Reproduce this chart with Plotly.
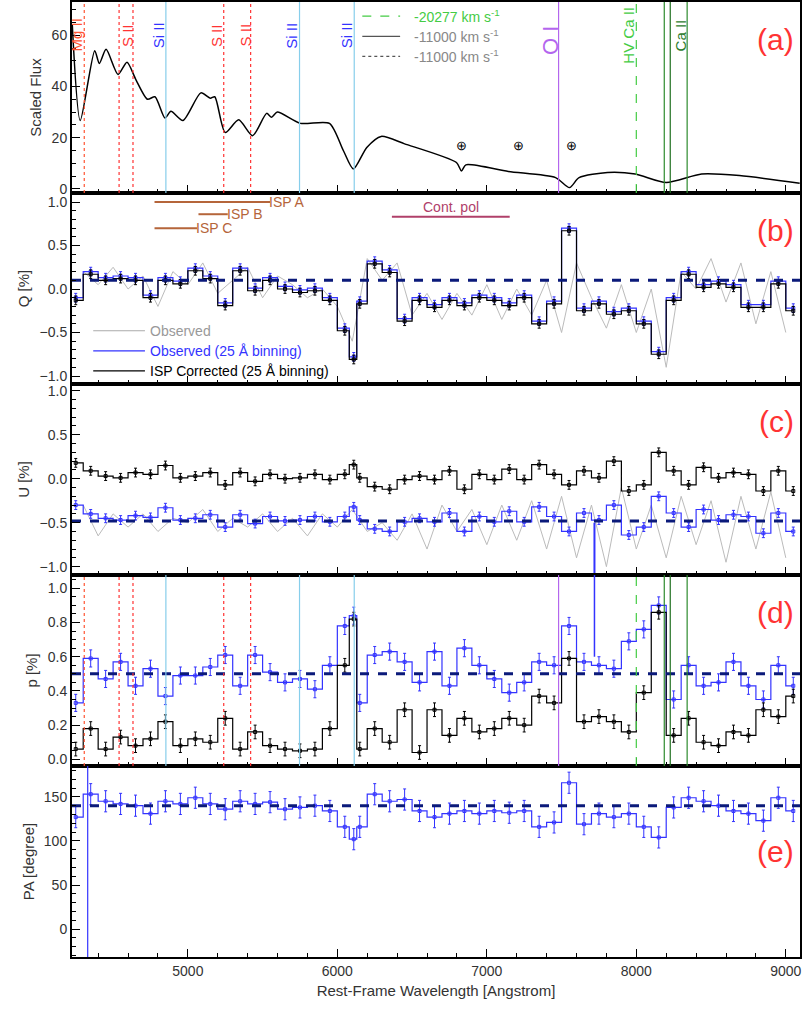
import plotly.graph_objects as go
from plotly.subplots import make_subplots

# ---------------- data ----------------
flux_wl = [4227,4280,4377,4408,4453,4533,4593,4653,4730,4780,4847,4887,4967,5087,5150,5180,5250,5340,5433,5527,5560,5598,5753,5947,6040,6107,6197,6293,6450,6797,6830,6860,7144,7460,7553,7617,7807,7993,8200,8437,8690,9093]
flux = [64,26.7,54,49,54.5,44.7,49.5,42.6,35,36,27.7,30.3,26.7,37.5,35.4,36,22,27,20.8,29.5,28,30,25.6,25.6,15,7.8,16.2,20.5,17.6,10.3,7,9.4,6.8,4.4,0.5,4.4,6.4,5.8,2.5,5.8,5.2,2.2]

wl = list(range(4250, 6051, 100)) + [6110] + list(range(6150, 9051, 100))
q_obs = [-0.10,0.20,0.13,0.15,0.13,-0.07,0.13,0.09,0.24,0.15,-0.16,0.24,0.01,0.13,0.03,-0.01,0.01,-0.10,-0.45,-0.78,-0.14,0.32,0.22,-0.34,-0.10,-0.18,-0.10,-0.16,-0.07,-0.10,-0.16,-0.07,-0.37,-0.14,0.70,-0.22,-0.14,-0.26,-0.22,-0.37,-0.72,-0.10,0.20,0.05,0.09,0.05,-0.18,-0.18,0.09,-0.22]
q_isp = [-0.13,0.17,0.10,0.12,0.10,-0.10,0.10,0.06,0.21,0.12,-0.19,0.21,-0.02,0.10,0.00,-0.04,-0.02,-0.13,-0.48,-0.81,-0.17,0.29,0.19,-0.37,-0.13,-0.21,-0.13,-0.19,-0.10,-0.13,-0.19,-0.10,-0.40,-0.17,0.67,-0.25,-0.17,-0.29,-0.25,-0.40,-0.75,-0.13,0.17,0.02,0.06,0.02,-0.21,-0.21,0.06,-0.25]
u_obs = [-0.30,-0.40,-0.45,-0.47,-0.42,-0.44,-0.33,-0.47,-0.45,-0.41,-0.55,-0.41,-0.51,-0.43,-0.48,-0.47,-0.43,-0.49,-0.43,-0.32,-0.47,-0.57,-0.60,-0.49,-0.45,-0.49,-0.39,-0.60,-0.43,-0.49,-0.37,-0.49,-0.32,-0.43,-0.60,-0.39,-0.47,-0.30,-0.64,-0.55,-0.20,-0.39,-0.55,-0.35,-0.47,-0.41,-0.43,-0.62,-0.39,-0.60]
u_isp = [0.18,0.09,0.03,0.01,0.07,0.05,0.15,0.01,0.03,0.07,-0.07,0.07,-0.03,0.05,0.00,0.01,0.05,-0.01,0.05,0.16,0.01,-0.09,-0.12,-0.01,0.03,-0.01,0.09,-0.12,0.05,-0.01,0.11,-0.01,0.16,0.05,-0.07,0.09,0.01,0.20,-0.14,-0.07,0.30,0.09,-0.07,0.13,0.01,0.07,0.05,-0.14,0.09,-0.14]
p_obs = [0.33,0.59,0.47,0.57,0.43,0.53,0.37,0.49,0.49,0.54,0.61,0.43,0.61,0.51,0.45,0.47,0.41,0.55,0.78,0.84,0.33,0.61,0.63,0.57,0.45,0.63,0.43,0.65,0.55,0.47,0.39,0.45,0.57,0.55,0.78,0.57,0.55,0.53,0.69,0.76,0.90,0.35,0.55,0.43,0.45,0.57,0.43,0.35,0.55,0.43]
p_isp = [0.06,0.18,0.06,0.13,0.08,0.12,0.22,0.08,0.12,0.10,0.24,0.06,0.16,0.08,0.06,0.05,0.06,0.18,0.55,0.82,0.06,0.18,0.10,0.29,0.04,0.29,0.14,0.24,0.16,0.18,0.24,0.20,0.37,0.33,0.59,0.22,0.25,0.22,0.16,0.39,0.86,0.14,0.24,0.10,0.08,0.16,0.14,0.29,0.25,0.37]
pa_obs = [127,153,145,142,140,131,145,142,149,142,136,145,142,144,136,138,140,134,116,102,116,153,145,147,134,127,131,134,131,134,132,134,116,121,166,119,131,127,131,116,104,138,149,145,140,134,131,123,149,134]

raw_wl = list(range(4300, 9001, 100))
q_raw = [0.2,0.05,0.25,0.0,0.15,-0.2,0.2,0.05,0.3,-0.05,0.1,0.25,-0.1,0.15,0.05,-0.1,0.0,-0.2,-0.6,0.35,0.1,0.3,-0.3,-0.05,-0.35,-0.05,-0.3,0.05,-0.35,0.0,-0.3,0.1,-0.5,0.3,-0.1,-0.45,0.05,-0.5,0.0,-0.9,0.2,0.0,0.35,-0.15,0.3,-0.4,0.2,-0.5]
u_raw = [-0.3,-0.65,-0.4,-0.55,-0.4,-0.6,-0.45,-0.5,-0.35,-0.6,-0.45,-0.55,-0.4,-0.6,-0.45,-0.65,-0.4,-0.55,-0.35,-0.6,-0.5,-0.7,-0.4,-0.8,-0.3,-0.6,-0.35,-0.75,-0.3,-0.7,-0.25,-0.8,-0.2,-0.9,-0.3,-1.0,-0.1,-0.8,-0.3,-0.9,-0.2,-0.75,-0.25,-0.95,-0.2,-0.8,-0.15,-0.9]

isp_q, isp_u, isp_p, isp_pa = 0.1, -0.48, 0.5, 140

# line identifications: (wavelength, label, color, dash, label_x)
lines = [
    (4307, "Mg II", "#ff5533", "dot", 4253),
    (4540, None, "#ff3333", "dot", None),
    (4633, "S II", "#ff3333", "dot", 4598),
    (4853, "Si II", "#87ceeb", "solid", 4800),
    (5240, "S II", "#ff3333", "dot", 5187),
    (5420, "S II", "#ff3333", "dot", 5383),
    (5747, "Si II", "#87ceeb", "solid", 5693),
    (6113, "Si II", "#87ceeb", "solid", 6058),
    (7480, "O I", "#b366ee", "solid", 7427),
    (8000, "HV Ca II", "#44cc44", "dash", 7947),
    (8187, None, "#2e8b2e", "solid", None),
    (8227, None, "#1f6f1f", "solid", None),
    (8340, "Ca II", "#2e8b2e", "solid", 8293),
]
label_colors = {"Mg II": "#ff5533", "S II": "#ff3333", "Si II": "#3333ff",
                "O I": "#b366ee", "HV Ca II": "#44cc44", "Ca II": "#2e7d2e"}
telluric_wl = [6833, 7213, 7567]

# ---------------- figure ----------------
fig = make_subplots(rows=5, cols=1, shared_xaxes=True, vertical_spacing=0)
BLUE = "#3333ff"
NAVY = "#0b1a7a"

fig.add_trace(go.Scatter(x=flux_wl, y=flux, mode="lines", line=dict(color="black", width=1.5, shape="spline", smoothing=0.7)), 1, 1)

def binned(row, y, color, err):
    fig.add_trace(go.Scatter(x=wl, y=y, mode="lines+markers", line=dict(color=color, width=1.2, shape="hvh"),
                             marker=dict(symbol="square-open", size=3, color=color),
                             error_y=dict(type="constant", value=err, color=color, thickness=1, width=1.5)), row, 1)

fig.add_trace(go.Scatter(x=raw_wl, y=q_raw, mode="lines", line=dict(color="#bbbbbb", width=1)), 2, 1)
binned(2, q_obs, BLUE, 0.05)
binned(2, q_isp, "black", 0.05)
fig.add_trace(go.Scatter(x=raw_wl, y=u_raw, mode="lines", line=dict(color="#bbbbbb", width=1)), 3, 1)
binned(3, u_isp, "black", 0.05)
binned(3, u_obs, BLUE, 0.05)
binned(4, p_obs, BLUE, 0.05)
binned(4, p_isp, "black", 0.04)
binned(5, pa_obs, BLUE, 12)
fig.add_trace(go.Scatter(x=[4330, 4330], y=[-40, 190], mode="lines", line=dict(color=BLUE, width=1.2)), 5, 1)
fig.add_trace(go.Scatter(x=[7720, 7720], y=[0.6, 1.2], mode="lines", line=dict(color=BLUE, width=1.5)), 4, 1)
fig.add_trace(go.Scatter(x=[7720, 7720], y=[-1.2, -0.5], mode="lines", line=dict(color=BLUE, width=2)), 3, 1)

for row, val in [(2, isp_q), (3, isp_u), (4, isp_p), (5, isp_pa)]:
    fig.add_trace(go.Scatter(x=[4225, 9095], y=[val, val], mode="lines", line=dict(color=NAVY, width=3, dash="dash")), row, 1)

# vertical lines in panels a and d
for w, lab, col, dash, lx in lines:
    for yr in ["y domain", "y4 domain"]:
        fig.add_shape(type="line", xref="x", yref=yr, x0=w, x1=w, y0=0, y1=1,
                      line=dict(color=col, width=1.2, dash=dash))
    if lab:
        big = lab == "O I"
        fig.add_annotation(x=lx, y=60 if not big else 58, xref="x", yref="y", text=lab, textangle=-90,
                           showarrow=False, font=dict(size=22 if big else 15, color=label_colors[lab]))
for w in telluric_wl:
    fig.add_annotation(x=w, y=17, xref="x", yref="y", text="⊕", showarrow=False, font=dict(size=13, color="black"))

# legend in panel a
leg_a = [("-20277 km s<sup>-1</sup>", "#44cc44", "dash", 67.5, "#44cc44"),
         ("-11000 km s<sup>-1</sup>", "#555555", "solid", 59.6, "#888888"),
         ("-11000 km s<sup>-1</sup>", "#555555", "dot", 51.8, "#888888")]
for txt, lc, dash, yv, tc in leg_a:
    fig.add_shape(type="line", xref="x", yref="y", x0=6167, x1=6420, y0=yv, y1=yv, line=dict(color=lc, width=1.3, dash=dash))
    fig.add_annotation(x=6500, y=yv, xref="x", yref="y", text=txt, xanchor="left", showarrow=False, font=dict(size=14, color=tc))

# ISP ranges in panel b
isp_bars = [(4777, 5550, 1.0, "ISP A", "#b5653a"), (5071, 5267, 0.86, "ISP B", "#b5653a"),
            (4777, 5061, 0.70, "ISP C", "#b5653a")]
for x0, x1, yv, txt, col in isp_bars:
    fig.add_shape(type="line", xref="x", yref="y2", x0=x0, x1=x1, y0=yv, y1=yv, line=dict(color=col, width=2))
    fig.add_annotation(x=x1, y=yv, xref="x", yref="y2", text=txt, xanchor="left", xshift=-3, showarrow=False, font=dict(size=14, color=col))
fig.add_shape(type="line", xref="x", yref="y2", x0=6365, x1=7153, y0=0.83, y1=0.83, line=dict(color="#b0406a", width=2))
fig.add_annotation(x=6759, y=0.83, xref="x", yref="y2", text="Cont. pol", yanchor="bottom", showarrow=False, font=dict(size=14, color="#b0406a"))

leg_b = [("Observed", "#aaaaaa", -0.48, "#999999"), ("Observed (25 Å binning)", BLUE, -0.71, BLUE),
         ("ISP Corrected (25 Å binning)", "black", -0.94, "black")]
for txt, lc, yv, tc in leg_b:
    fig.add_shape(type="line", xref="x", yref="y2", x0=4367, x1=4713, y0=yv, y1=yv, line=dict(color=lc, width=1.2))
    fig.add_annotation(x=4733, y=yv, xref="x", yref="y2", text=txt, xanchor="left", showarrow=False, font=dict(size=14, color=tc))

# panel labels
for i, lab in enumerate(["(a)", "(b)", "(c)", "(d)", "(e)"]):
    yr = "y domain" if i == 0 else f"y{i+1} domain"
    ypos = 0.9 if i < 4 else 0.55
    fig.add_annotation(x=0.995, y=ypos, xref="x domain", yref=yr, text=lab, xanchor="right", showarrow=False,
                       font=dict(size=30, color="#ff3333"))

ax = dict(showline=True, linecolor="black", linewidth=2, mirror=True, ticks="inside", ticklen=8,
          tickcolor="black", showgrid=False, zeroline=False, tickfont=dict(size=14, color="#333"),
          minor=dict(ticks="inside", ticklen=4, tickcolor="black"), automargin=False)
for r in range(1, 6):
    fig.update_xaxes(range=[4225, 9095], dtick=1000, minor_dtick=200, showticklabels=(r == 5), row=r, col=1, **ax)
fig.update_xaxes(title=dict(text="Rest-Frame Wavelength [Angstrom]", font=dict(size=15, color="#333"), standoff=8), row=5, col=1)
fig.update_yaxes(range=[-1.6, 73], tickvals=[0, 20, 40, 60], minor_dtick=5, title_text="Scaled Flux", row=1, col=1, **ax)
fig.update_yaxes(range=[-1.092, 1.104], tickvals=[-1, -0.5, 0, 0.5, 1], tickformat=".1f", minor_dtick=0.1, title_text="Q [%]", row=2, col=1, **ax)
fig.update_yaxes(range=[-1.095, 1.077], tickvals=[-1, -0.5, 0, 0.5, 1], tickformat=".1f", minor_dtick=0.1, title_text="U [%]", row=3, col=1, **ax)
fig.update_yaxes(range=[-0.039, 1.078], tickvals=[0, 0.2, 0.4, 0.6, 0.8, 1.0], tickformat=".1f", minor_dtick=0.05, title_text="p [%]", row=4, col=1, **ax)
fig.update_yaxes(range=[-31.6, 185], tickvals=[0, 50, 100, 150], minor_dtick=10, title_text="PA [degree]", row=5, col=1, **ax)
fig.update_yaxes(title_font=dict(size=15, color="#333"), title_standoff=6)

fig.update_layout(width=802, height=1015, margin=dict(l=72, r=2, t=2, b=58), showlegend=False,
                  plot_bgcolor="white", paper_bgcolor="white", font=dict(family="Liberation Sans, Arial"))
fig.write_html("out.html", config={"displayModeBar": False},
               post_script="document.body.style.margin='0px';")
